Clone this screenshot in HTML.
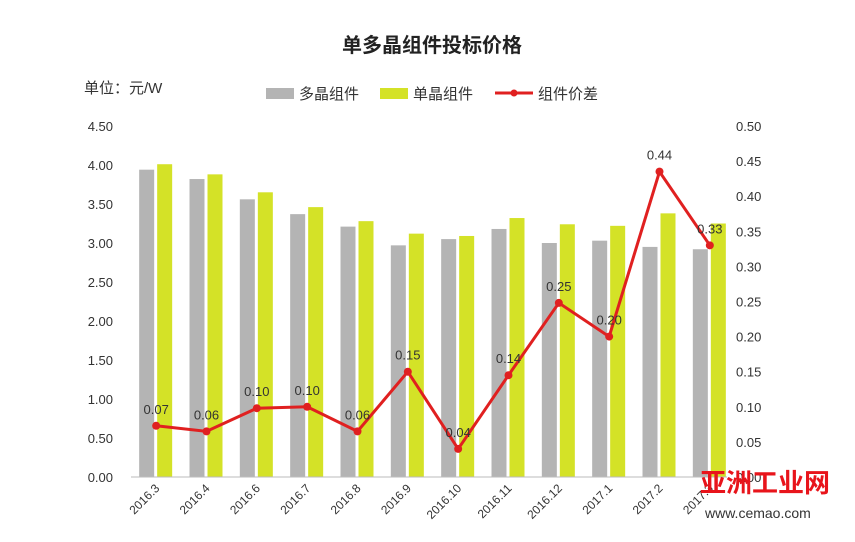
<!DOCTYPE html>
<html><head><meta charset="utf-8"><style>
body{margin:0;background:#fff;}
svg{display:block;font-family:"Liberation Sans","Noto Sans CJK SC",sans-serif;}
</style></head><body>
<svg id="c" width="855" height="542">
<text x="432" y="52" text-anchor="middle" font-size="20" font-weight="bold" fill="#222">单多晶组件投标价格</text>
<text x="84" y="93" font-size="15" fill="#333">单位：元/W</text>
<g>
<rect x="266" y="88" width="28" height="11" fill="#b4b4b4"/>
<text x="299" y="99" font-size="15" fill="#333">多晶组件</text>
<rect x="380" y="88" width="28" height="11" fill="#d4e227"/>
<text x="413" y="99" font-size="15" fill="#333">单晶组件</text>
<line x1="495" y1="93" x2="533" y2="93" stroke="#e02020" stroke-width="3"/>
<circle cx="514" cy="93" r="3.5" fill="#e02020"/>
<text x="538" y="99" font-size="15" fill="#333">组件价差</text>
</g>
<g id="plot"></g>
<text x="700" y="492" font-size="26" font-weight="bold" fill="#e8141b">亚洲工业网</text>
<text x="705" y="518" font-size="14" fill="#333">www.cemao.com</text>
</svg>
<script>
const categories=["2016.3","2016.4","2016.6","2016.7","2016.8","2016.9","2016.10","2016.11","2016.12","2017.1","2017.2","2017.3"];
const polyValues=[3.94,3.82,3.56,3.37,3.21,2.97,3.05,3.18,3.00,3.03,2.95,2.92];
const monoValues=[4.01,3.88,3.65,3.46,3.28,3.12,3.09,3.32,3.24,3.22,3.38,3.25];
const diffValues=[0.073,0.065,0.098,0.100,0.065,0.150,0.040,0.145,0.248,0.200,0.435,0.330];
const diffLabels=["0.07","0.06","0.10","0.10","0.06","0.15","0.04","0.14","0.25","0.20","0.44","0.33"];
const leftTicks=["0.00","0.50","1.00","1.50","2.00","2.50","3.00","3.50","4.00","4.50"];
const rightTicks=["0.00","0.05","0.10","0.15","0.20","0.25","0.30","0.35","0.40","0.45","0.50"];
const NS="http://www.w3.org/2000/svg",g=document.getElementById('plot');
const x0=131,x1=735,yTop=126,yBot=477;
const yL=v=>yBot-(v/4.5)*(yBot-yTop);
const yR=v=>yBot-(v/0.5)*(yBot-yTop);
const step=(x1-x0)/categories.length;
const xc=i=>x0+step*(i+0.5);
function mk(t,a,txt){const e=document.createElementNS(NS,t);for(const k in a)e.setAttribute(k,a[k]);if(txt!=null)e.textContent=txt;g.appendChild(e);return e;}
leftTicks.forEach(t=>{const e=mk('text',{x:113,y:yL(+t)+5,'text-anchor':'end','font-size':13,fill:'#333'},t);

});
rightTicks.forEach(t=>{const e=mk('text',{x:736,y:yR(+t)+5,'font-size':13,fill:'#333'},t);

});
categories.forEach((c,i)=>{
const b1=mk('rect',{x:xc(i)-17,y:yL(polyValues[i]),width:15,height:yBot-yL(polyValues[i]),fill:'#b4b4b4'});


const b2=mk('rect',{x:xc(i)+1,y:yL(monoValues[i]),width:15,height:yBot-yL(monoValues[i]),fill:'#d4e227'});


const lx=xc(i)+4,ly=yBot+12;
const t=mk('text',{x:lx,y:ly,'text-anchor':'end','font-size':12,fill:'#333',transform:`rotate(-45 ${lx} ${ly})`},c);


});
const ax=mk('line',{x1:x0,y1:yBot,x2:727,y2:yBot,stroke:'#bbb','stroke-width':1});


const pts=diffValues.map((v,i)=>xc(i)+','+yR(v)).join(' ');
const pl=mk('polyline',{points:pts,fill:'none',stroke:'#e02020','stroke-width':3});


diffValues.forEach((v,i)=>{
const p=mk('circle',{cx:xc(i),cy:yR(v),r:4,fill:'#e02020'});


const t=mk('text',{x:xc(i),y:yR(v)-12,'text-anchor':'middle','font-size':13,fill:'#333'},diffLabels[i]);


});
</script>
</body></html>
